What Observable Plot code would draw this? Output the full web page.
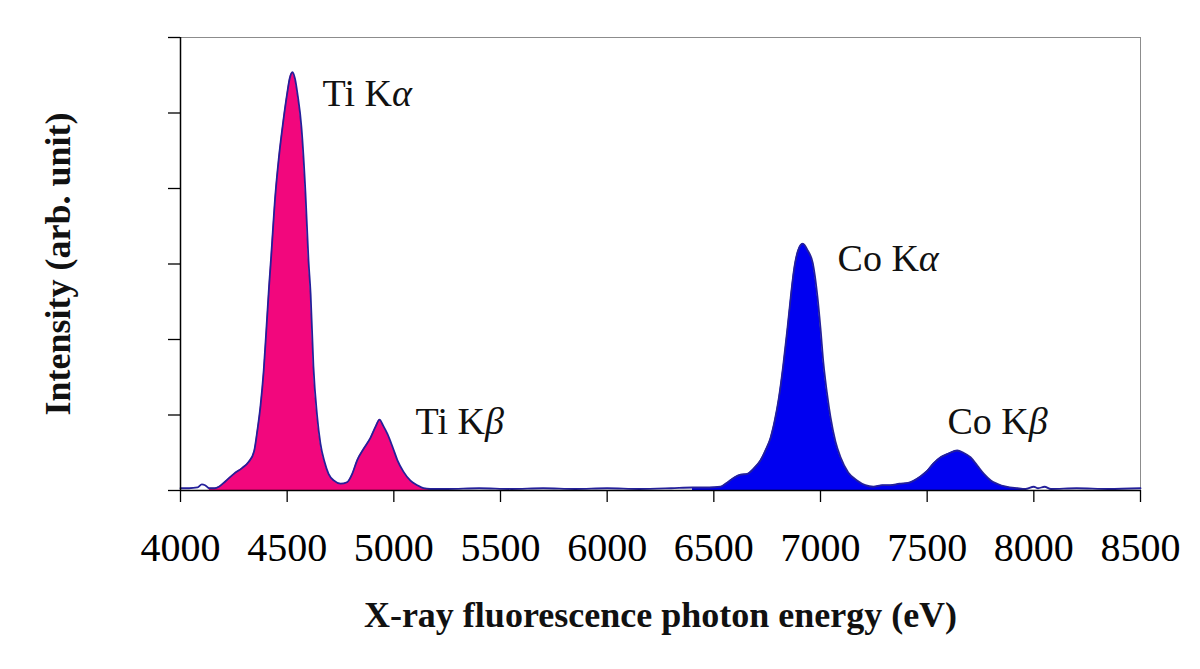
<!DOCTYPE html>
<html>
<head>
<meta charset="utf-8">
<script src="https://cdn.jsdelivr.net/npm/d3@7"></script>
<script src="https://cdn.jsdelivr.net/npm/@observablehq/plot@0.6"></script>
<style>
  html, body { margin: 0; padding: 0; background: #fff; }
</style>
</head>
<body>
<div id="chart"></div>
<script>
// Spectrum: photon energy (eV) and intensity (arb. unit; grid of 6 y-ticks)
const energy = [
  4000, 4040, 4080, 4100, 4115, 4135, 4160, 4180, 4210, 4250, 4290, 4320, 4345, 4360, 4375, 4390,
  4405, 4415, 4425, 4445, 4460, 4478, 4500, 4512, 4525, 4537, 4548, 4567, 4586, 4600, 4610, 4623,
  4640, 4656, 4675, 4694, 4720, 4750, 4781, 4805, 4828, 4860, 4891, 4915, 4933, 4950, 4970, 4995,
  5017, 5045, 5078, 5110, 5139, 5170, 5250, 5400, 5550, 5700, 5850, 6000, 6150, 6300, 6400, 6480,
  6531, 6560, 6594, 6625, 6656, 6690, 6719, 6745, 6766, 6785, 6805, 6825, 6844, 6860, 6875, 6895,
  6917, 6940, 6964, 6986, 7000, 7014, 7030, 7047, 7070, 7094, 7130, 7173, 7210, 7248, 7290, 7328,
  7370, 7410, 7436, 7470, 7500, 7530, 7563, 7600, 7641, 7670, 7703, 7735, 7766, 7800, 7828, 7870,
  7922, 7960, 8000, 8020, 8050, 8080, 8200, 8350, 8500
];
const intensity = [
  0.03, 0.03, 0.04, 0.08, 0.07, 0.03, 0.03, 0.05, 0.12, 0.22, 0.30, 0.38, 0.52, 0.79, 1.12, 1.59,
  2.25, 2.70, 3.10, 3.93, 4.38, 4.81, 5.26, 5.46, 5.54, 5.45, 5.26, 4.81, 3.93, 3.05, 2.60, 1.65,
  1.00, 0.62, 0.38, 0.22, 0.13, 0.09, 0.11, 0.22, 0.40, 0.56, 0.70, 0.85, 0.94, 0.86, 0.75, 0.57,
  0.40, 0.25, 0.13, 0.07, 0.03, 0.02, 0.02, 0.03, 0.02, 0.03, 0.02, 0.03, 0.02, 0.03, 0.04, 0.04,
  0.05, 0.10, 0.17, 0.21, 0.22, 0.30, 0.40, 0.55, 0.70, 0.92, 1.23, 1.65, 2.12, 2.55, 2.91, 3.18,
  3.27, 3.18, 3.01, 2.56, 2.15, 1.68, 1.30, 0.97, 0.65, 0.44, 0.24, 0.13, 0.07, 0.05, 0.07, 0.07,
  0.09, 0.10, 0.13, 0.19, 0.26, 0.36, 0.44, 0.49, 0.53, 0.50, 0.44, 0.33, 0.22, 0.13, 0.09, 0.05,
  0.03, 0.02, 0.05, 0.03, 0.05, 0.02, 0.03, 0.02, 0.03
];

// Filled element regions (eV)
const regionNames = ["Ti", "Co"];
const regionStart = [4135, 6400];
const regionEnd = [5170, 7960];
const regionFill = ["#f2077d", "#0000f0"];

// Peak labels
const peakLabels = ["Ti Kα", "Ti Kβ", "Co Kα", "Co Kβ"];
const peakLabelX = [4666, 5102, 7080, 7595];
const peakLabelY = [5.26, 0.91, 3.07, 0.91];

// Axes
const xTicks = [4000, 4500, 5000, 5500, 6000, 6500, 7000, 7500, 8000, 8500];
const yTicks = [0, 1, 2, 3, 4, 5, 6];
const xLabel = "X-ray fluorescence photon energy (eV)";
const yLabel = "Intensity (arb. unit)";

const spectrum = energy.map((e, i) => ({e, v: intensity[i]}));
const regionData = regionNames.map((name, k) => ({
  name, fill: regionFill[k],
  pts: spectrum.filter(d => d.e >= regionStart[k] && d.e <= regionEnd[k])
}));
const labels = peakLabels.map((t, i) => ({t, x: peakLabelX[i], y: peakLabelY[i]}));

const serif = "'Liberation Serif', 'Times New Roman', 'DejaVu Serif', serif";

const chart = Plot.plot({
  width: 1200,
  height: 669,
  marginLeft: 180,
  marginRight: 60,
  marginTop: 37,
  marginBottom: 179,
  style: {fontFamily: serif, background: "#fff", color: "#000"},
  x: {domain: [4000, 8500]},
  y: {domain: [0, 6]},
  marks: [
    Plot.frame({stroke: "#8c8c8c", strokeWidth: 1}),
    ...regionData.map(r => Plot.areaY(r.pts, {x: "e", y: "v", fill: r.fill, curve: "monotone-x"})),
    Plot.line(spectrum, {x: "e", y: "v", stroke: "#24209a", strokeWidth: 1.8, curve: "monotone-x"}),
    Plot.ruleX([4000], {stroke: "#000", strokeWidth: 1.5}),
    Plot.ruleY([0], {stroke: "#000", strokeWidth: 1.5}),
    Plot.axisX({ticks: xTicks, tickSize: 12, tickPadding: 30, tickFormat: d => String(d),
      fontSize: 40, label: null, stroke: "#000", strokeWidth: 1.3}),
    Plot.axisY({ticks: yTicks, tickSize: 12, tickFormat: () => "", label: null,
      stroke: "#000", strokeWidth: 1.3}),
    Plot.text(labels, {x: "x", y: "y", text: "t", textAnchor: "start", fontSize: 38,
      fill: "#111", className: "peak-labels"}),
    Plot.text([xLabel], {frameAnchor: "bottom", dy: 136, fontSize: 36, fontWeight: "bold", fill: "#111"}),
    Plot.text([yLabel], {frameAnchor: "left", textAnchor: "middle", lineAnchor: "middle", dx: -122, rotate: -90,
      fontSize: 36, fontWeight: "bold", fill: "#111"})
  ]
});

// italic Greek letters in peak labels
chart.querySelectorAll(".peak-labels text").forEach(t => {
  const s = t.textContent;
  const head = s.slice(0, -1), greek = s.slice(-1);
  while (t.firstChild) t.removeChild(t.firstChild);
  t.appendChild(document.createTextNode(head));
  const ts = document.createElementNS("http://www.w3.org/2000/svg", "tspan");
  ts.setAttribute("font-style", "italic");
  ts.textContent = greek;
  t.appendChild(ts);
});

document.getElementById("chart").appendChild(chart);
</script>
</body>
</html>
